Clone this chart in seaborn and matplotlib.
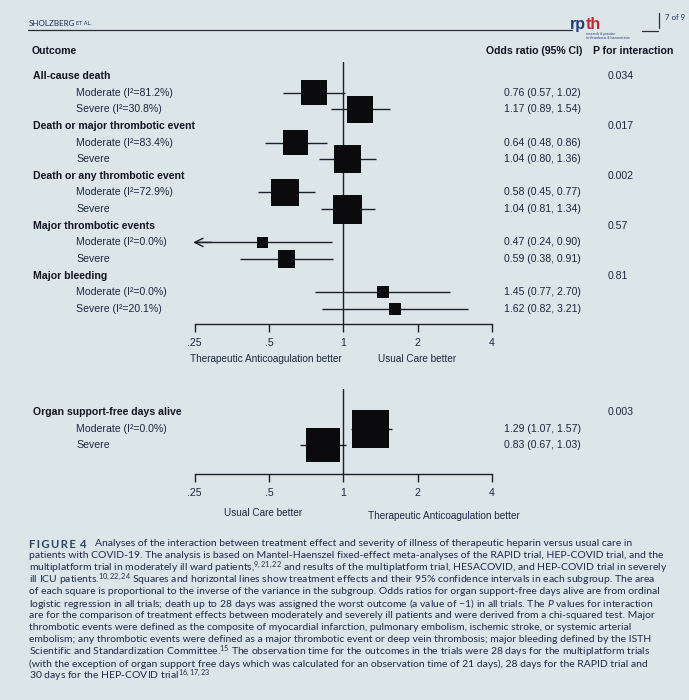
import numpy as np
import pandas as pd
import seaborn as sns
import matplotlib.pyplot as plt
from matplotlib.ticker import FixedLocator, FixedFormatter, NullLocator

W, H = 689, 700
BG = "#dce5e8"
INK = "#1b2744"
LINE = "#1c202c"
SANS = ["Liberation Sans", "DejaVu Sans"]
CAP = ["Lato", "DejaVu Sans"]

# top forest plot: interaction by illness severity
outcomes = ["All-cause death", "Death or major thrombotic event",
            "Death or any thrombotic event", "Major thrombotic events", "Major bleeding"]
mod_labels = ["Moderate (I²=81.2%)", "Moderate (I²=83.4%)", "Moderate (I²=72.9%)",
              "Moderate (I²=0.0%)", "Moderate (I²=0.0%)"]
sev_labels = ["Severe (I²=30.8%)", "Severe", "Severe", "Severe", "Severe (I²=20.1%)"]
mod_or = [0.76, 0.64, 0.58, 0.47, 1.45]
mod_lo = [0.57, 0.48, 0.45, 0.24, 0.77]
mod_hi = [1.02, 0.86, 0.77, 0.90, 2.70]
sev_or = [1.17, 1.04, 1.04, 0.59, 1.62]
sev_lo = [0.89, 0.80, 0.81, 0.38, 0.82]
sev_hi = [1.54, 1.36, 1.34, 0.91, 3.21]
p_inter = ["0.034", "0.017", "0.002", "0.57", "0.81"]

# bottom forest plot: organ support-free days
osfd_outcome = ["Organ support-free days alive"]
osfd_mod_label = ["Moderate (I²=0.0%)"]
osfd_sev_label = ["Severe"]
osfd_mod = [1.29]
osfd_mod_lo = [1.07]
osfd_mod_hi = [1.57]
osfd_sev = [0.83]
osfd_sev_lo = [0.67]
osfd_sev_hi = [1.03]
osfd_p = ["0.003"]

tick_vals = [0.25, 0.5, 1, 2, 4]
tick_labels = [".25", ".5", "1", "2", "4"]

caption = [
    "Analyses of the interaction between treatment effect and severity of illness of therapeutic heparin versus usual care in",
    "patients with COVID-19. The analysis is based on Mantel-Haenszel fixed-effect meta-analyses of the RAPID trial, HEP-COVID trial, and the",
    r"multiplatform trial in moderately ill ward patients,$^{9,21,22}$ and results of the multiplatform trial, HESACOVID, and HEP-COVID trial in severely",
    r"ill ICU patients.$^{10,22,24}$ Squares and horizontal lines show treatment effects and their 95% confidence intervals in each subgroup. The area",
    "of each square is proportional to the inverse of the variance in the subgroup. Odds ratios for organ support-free days alive are from ordinal",
    r"logistic regression in all trials; death up to 28 days was assigned the worst outcome (a value of −1) in all trials. The $P$ values for interaction",
    "are for the comparison of treatment effects between moderately and severely ill patients and were derived from a chi-squared test. Major",
    "thrombotic events were defined as the composite of myocardial infarction, pulmonary embolism, ischemic stroke, or systemic arterial",
    "embolism; any thrombotic events were defined as a major thrombotic event or deep vein thrombosis; major bleeding defined by the ISTH",
    r"Scientific and Standardization Committee.$^{15}$ The observation time for the outcomes in the trials were 28 days for the multiplatform trials",
    "(with the exception of organ support free days which was calculated for an observation time of 21 days), 28 days for the RAPID trial and",
    r"30 days for the HEP-COVID trial$^{16,17,23}$",
]

sns.set_style("white")
plt.rcParams["font.family"] = SANS
plt.rcParams["mathtext.fontset"] = "custom"
plt.rcParams["mathtext.rm"] = "Lato"
plt.rcParams["mathtext.it"] = "Lato:italic"
plt.rcParams["mathtext.bf"] = "Lato:bold"


def fx(px):
    return px / W


def fy(py):
    return 1 - py / H


def build(outs, mlab, slab, mor, mlo, mhi, sor, slo, shi):
    rows = []
    for k in range(len(outs)):
        rows.append(dict(row=3 * k, label=outs[k], kind="head"))
        rows.append(dict(row=3 * k + 1, label=mlab[k], kind="sub", est=mor[k], lo=mlo[k], hi=mhi[k]))
        rows.append(dict(row=3 * k + 2, label=slab[k], kind="sub", est=sor[k], lo=slo[k], hi=shi[k]))
    df = pd.DataFrame(rows)
    # square area proportional to inverse variance of log OR
    se = (np.log(df["hi"]) - np.log(df["lo"])) / 3.92
    side_px = 3.6 * np.sqrt(1 / se ** 2) + 1.0
    df["s"] = (side_px * 0.72) ** 2
    return df


def forest(top_px, bottom_px, first_row_px, df, pvals):
    step = 16.64
    ax = fig.add_axes([0, fy(bottom_px), 1, (bottom_px - top_px) / H])
    ax.set_facecolor("none")
    ax.set_xscale("log", base=2)
    ax.set_xlim(2 ** (-343.3 / 74.25), 2 ** ((W - 343.3) / 74.25))
    ax.set_ylim((bottom_px - first_row_px) / step, (top_px - first_row_px) / step)

    sub = df[df["kind"] == "sub"]
    ax.axvline(1, color=LINE, lw=1.0, zorder=1)
    ax.hlines(sub["row"], np.maximum(sub["lo"], 0.25), sub["hi"], color=LINE, lw=1.0, zorder=2)
    for _, r in sub[sub["lo"] < 0.25].iterrows():
        ax.annotate("", xy=(0.24, r["row"]), xytext=(0.3, r["row"]),
                    arrowprops=dict(arrowstyle="->", color=LINE, lw=1.0, mutation_scale=15))
    sns.scatterplot(data=sub, x="est", y="row", marker="s", s=sub["s"], color="#0b0b0e",
                    linewidth=0, ax=ax, zorder=3, legend=False)

    tr = ax.get_yaxis_transform()
    for _, r in df.iterrows():
        if r["kind"] == "head":
            ax.text(fx(33), r["row"], r["label"], transform=tr, va="center", ha="left",
                    fontsize=7.6, fontweight="bold", color="#111522")
        else:
            ax.text(fx(76), r["row"], r["label"], transform=tr, va="center", ha="left",
                    fontsize=7.6, color=INK)
            ax.text(fx(581), r["row"], f"{r['est']:.2f} ({r['lo']:.2f}, {r['hi']:.2f})",
                    transform=tr, va="center", ha="right", fontsize=7.6, color=INK)
    heads = df[df["kind"] == "head"]["row"].tolist()
    for rw, p in zip(heads, pvals):
        ax.text(fx(608), rw, p, transform=tr, va="center", ha="left", fontsize=7.6, color=INK)

    for side in ["top", "left", "right"]:
        ax.spines[side].set_visible(False)
    ax.spines["bottom"].set_bounds(tick_vals[0], tick_vals[-1])
    ax.spines["bottom"].set_color(LINE)
    ax.spines["bottom"].set_linewidth(1.0)
    ax.xaxis.set_major_locator(FixedLocator(tick_vals))
    ax.xaxis.set_major_formatter(FixedFormatter(tick_labels))
    ax.xaxis.set_minor_locator(NullLocator())
    ax.tick_params(axis="x", direction="out", length=6, width=1.0, color=LINE,
                   labelsize=7.6, labelcolor=INK, pad=4, bottom=True)
    ax.set_yticks([])
    ax.set_xlabel("")
    ax.set_ylabel("")
    return ax


fig = plt.figure(figsize=(W / 100, H / 100), dpi=100)
fig.patch.set_facecolor(BG)

top = build(outcomes, mod_labels, sev_labels, mod_or, mod_lo, mod_hi, sev_or, sev_lo, sev_hi)
bot = build(osfd_outcome, osfd_mod_label, osfd_sev_label, osfd_mod, osfd_mod_lo, osfd_mod_hi,
            osfd_sev, osfd_sev_lo, osfd_sev_hi)
forest(62, 324, 76, top, p_inter)
forest(389, 474, 412, bot, osfd_p)

# column headers
fig.text(fx(32), fy(51), "Outcome", fontsize=7.6, fontweight="bold", color="#111522", va="center")
fig.text(fx(582), fy(51), "Odds ratio (95% CI)", fontsize=7.6, fontweight="bold", color="#111522",
         va="center", ha="right")
fig.text(fx(593), fy(51), "P for interaction", fontsize=7.6, fontweight="bold", color="#111522",
         va="center")

# direction labels
fig.text(fx(266), fy(359), "Therapeutic Anticoagulation better", fontsize=7.2, color=INK,
         ha="center", va="center")
fig.text(fx(417), fy(359), "Usual Care better", fontsize=7.2, color=INK, ha="center", va="center")
fig.text(fx(263), fy(513), "Usual Care better", fontsize=7.2, color=INK, ha="center", va="center")
fig.text(fx(444), fy(516), "Therapeutic Anticoagulation better", fontsize=7.2, color=INK,
         ha="center", va="center")

# page header
fig.text(fx(29), fy(23), "SHOLZBERG", family=CAP, fontsize=5.8, color="#1d3060", va="center")
fig.text(fx(76), fy(23.5), "ET AL.", family=CAP, fontsize=4.0, color="#1d3060", va="center")
fig.add_artist(plt.Line2D([fx(28), fx(572)], [fy(30), fy(30)], color="#2a2f3a", lw=0.9))
fig.add_artist(plt.Line2D([fx(642), fx(658)], [fy(30.5), fy(30.5)], color="#2a2f3a", lw=0.9))
fig.add_artist(plt.Line2D([fx(659), fx(659)], [fy(13), fy(28)], color="#2a2f3a", lw=0.9))
fig.text(fx(665), fy(17), "7 of 9", family=CAP, fontsize=5.6, color="#1d3060", va="center")
fig.text(fx(570), fy(29), "rp", fontsize=11.5, fontweight="bold", color="#233a7a", va="baseline")
fig.text(fx(586), fy(29), "th", fontsize=11.5, fontweight="bold", color="#c0263a", va="baseline")
fig.text(fx(586), fy(34.5), "research & practice", fontsize=2.4, color="#233a7a", va="center")
fig.text(fx(586), fy(38), "in thrombosis & haemostasis", fontsize=2.4, color="#233a7a", va="center")

# caption
fig.text(fx(29), fy(544), "F\u2009I\u2009G\u2009U\u2009R\u2009E\u2009 4", family=CAP, fontsize=8.2,
         fontweight="bold", color="#2b4468", va="center")
for i, line in enumerate(caption):
    x0 = 95 if i == 0 else 29
    fig.text(fx(x0), fy(544 + 12 * i), line, family=CAP, fontsize=7.5, color="#1d2b4f", va="center")

fig.savefig("out.png", dpi=100, facecolor=BG)
